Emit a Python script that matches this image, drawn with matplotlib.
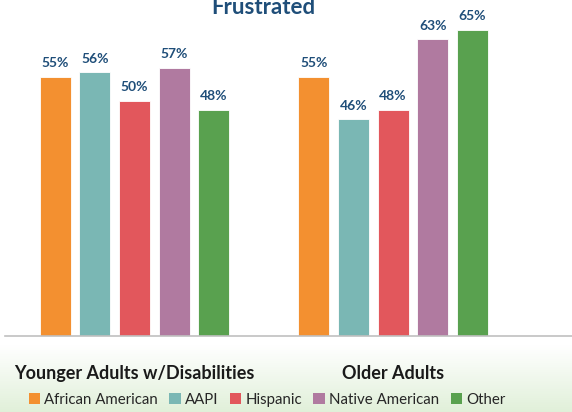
import numpy as np
import matplotlib
import matplotlib.pyplot as plt
from matplotlib.patches import Patch
matplotlib.use('Agg')

plt.rcParams['font.family'] = ['Lato', 'DejaVu Sans']

groups = ["Younger Adults w/Disabilities", "Older Adults"]
series = ["African American", "AAPI", "Hispanic", "Native American", "Other"]
values = [
    [55, 55],   # African American
    [56, 46],   # AAPI
    [50, 48],   # Hispanic
    [57, 63],   # Native American
    [48, 65],   # Other
]
colors = ["#f39030", "#7ab7b4", "#e2575c", "#b07aa0", "#59a14f"]

fig = plt.figure(figsize=(5.72, 4.12), dpi=100)

# fond avec degrade vert en bas
bg = fig.add_axes([0, 0, 1, 1], zorder=0)
grad = np.ones((412, 1, 3))
top = np.array([1.0, 1.0, 1.0])
bot = np.array([0.88, 0.94, 0.85])
for r in range(412):
    t = (r - 345) / (412 - 345)
    t = min(max(t, 0), 1)
    grad[r, 0] = top + (bot - top) * t
bg.imshow(grad, aspect='auto', extent=[0, 1, 0, 1], origin='upper')
bg.axis('off')

ax = fig.add_axes([5/572, 1 - 336/412, 567/572, 329.6/412], zorder=1)
ax.patch.set_alpha(0)

x = np.arange(len(groups))
step = 0.1536
width = 0.12
for i in range(len(series)):
    offset = (i - 2) * step
    bars = ax.bar(x + offset, values[i], width=width, color=colors[i],
                  edgecolor='white', linewidth=0.6, label=series[i])
    for b, v in zip(bars, values[i]):
        ax.text(b.get_x() + b.get_width() / 2, v + 1.6, f"{v}%",
                ha='center', va='bottom', fontsize=10, fontweight='bold',
                color='#1f4e79')

ax.set_xlim(-0.501, 1.692)
ax.set_ylim(0, 70)
ax.set_yticks([])
ax.set_xticks(x)
ax.set_xticklabels(groups, fontsize=13, fontweight='bold', color='#1a1a1a')
ax.tick_params(axis='x', length=0, pad=21)
for s in ['top', 'right', 'left']:
    ax.spines[s].set_visible(False)
ax.spines['bottom'].set_color('#c0c0c0')
ax.spines['bottom'].set_linewidth(1.2)

fig.text(263.5/572, 1 - 14/412, "Frustrated", ha='center', va='baseline',
         fontsize=16, fontweight='bold', color='#1f4e79')

handles = [Patch(facecolor=c, edgecolor='none') for c in colors]
fig.legend(handles, series, loc='center', bbox_to_anchor=(267/572, 12/412),
           ncol=5, frameon=False, fontsize=10.8, handlelength=0.75,
           handleheight=0.75, handletextpad=0.3, columnspacing=0.75,
           labelcolor='#262626')

fig.savefig("out.png", dpi=100)
plt.close()
